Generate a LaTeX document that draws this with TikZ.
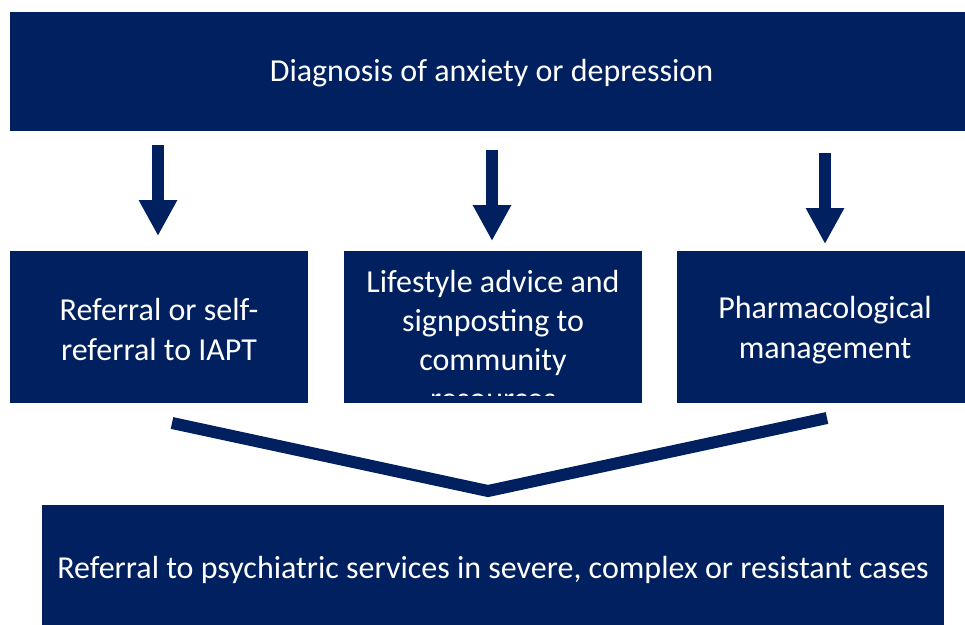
\documentclass[tikz,border=0pt]{standalone}
\usepackage{fontspec}
\setmainfont{Carlito}
\usetikzlibrary{arrows.meta}
\definecolor{navy}{HTML}{002060}
\begin{document}
\begin{tikzpicture}[x=1pt,y=-1pt,
  box/.style={fill=navy,draw=none,inner sep=0pt},
  label/.style={text=white,align=center,font=\fontsize{32}{40}\selectfont},
  downarrow/.style={draw=navy,line width=12pt,
    -{Triangle[width=36pt,length=36pt]}},
  joinline/.style={draw=navy,line width=12pt,line join=miter}]
\useasboundingbox (0,0) rectangle (965,624);
% top box (runs to the right edge)
\node[box,minimum width=955pt,minimum height=119pt] (diag) at (487.5,71.5) {};
\node[label,xshift=4pt,yshift=-2pt] (diagtext) at (diag.center)
  {Diagnosis of anxiety or depression};
% three option boxes
\node[box,minimum width=298pt,minimum height=152pt] (iapt) at (159,327) {};
\node[label,yshift=-3pt] (iapttext) at (iapt.center)
  {Referral or self-\\referral to IAPT};
\node[box,minimum width=298pt,minimum height=152pt,
  path picture={
    \clip (path picture bounding box.north west) rectangle
      ([yshift=8pt]path picture bounding box.south east);
    \node[label,font=\fontsize{32}{39}\selectfont,anchor=north]
      at ([yshift=-13pt]path picture bounding box.north)
      {Lifestyle advice and\\signposting to\\community\\resources};
  }] (life) at (493,327) {};
\node[box,minimum width=288pt,minimum height=152pt] (pharm) at (821,327) {};
\node[label,yshift=-3pt,xshift=4pt] (pharmtext) at (pharm.center)
  {Pharmacological\\management};
% bottom box
\node[box,minimum width=902pt,minimum height=120pt] (psych) at (493,565) {};
\node[label,yshift=-5pt] (psychtext) at (psych.center)
  {Referral to psychiatric services in severe, complex or resistant cases};
% arrow ends
\coordinate (a1s) at (158,145); \coordinate (a1e) at (158,236);
\coordinate (a2s) at (492,150); \coordinate (a2e) at (492,241);
\coordinate (a3s) at (825,153); \coordinate (a3e) at (825,244);
\draw[downarrow] (a1s) -- (a1e);
\draw[downarrow] (a2s) -- (a2e);
\draw[downarrow] (a3s) -- (a3e);
% converging line
\coordinate (vl) at (172,423);
\coordinate (vm) at (488,491);
\coordinate (vr) at (827,418);
\draw[joinline] (vl) -- (vm) -- (vr);
\end{tikzpicture}
\end{document}
